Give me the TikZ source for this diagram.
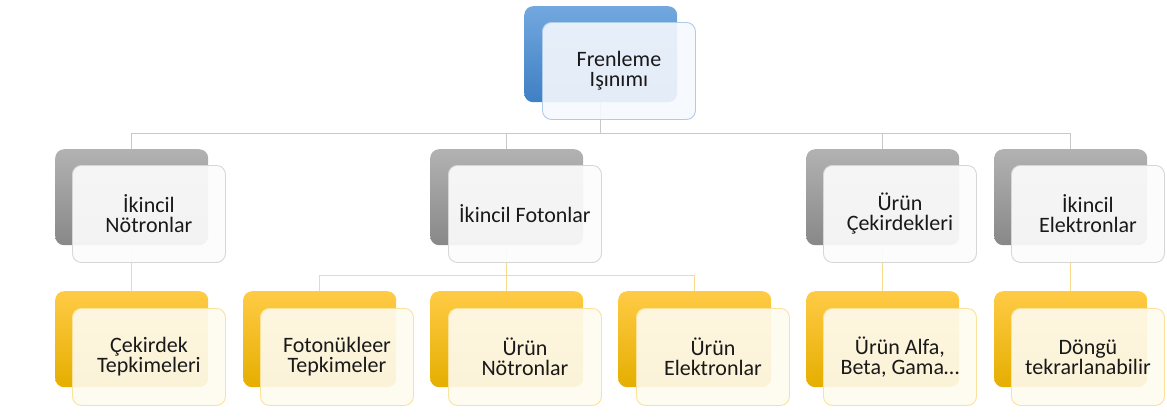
\documentclass[tikz,border=0pt]{standalone}
\usepackage{fontspec}
\setmainfont{Carlito}
\usetikzlibrary{backgrounds}
\begin{document}
\begin{tikzpicture}[x=1pt,y=-1pt,
  backbox/.style={rounded corners=9pt, minimum width=153pt, minimum height=96pt,
    inner sep=0pt, anchor=north west, draw=none},
  frontbox/.style={rounded corners=9pt, minimum width=153pt, minimum height=97pt,
    inner sep=0pt, anchor=north west, line width=0.9pt, fill opacity=0.9,
    text opacity=1, align=center, text=black!90,
    font=\fontsize{22}{20}\selectfont},
  bluebk/.style={backbox, top color=blueT, bottom color=blueB},
  graybk/.style={backbox, top color=grayT, bottom color=grayB},
  goldbk/.style={backbox, top color=goldT, bottom color=goldB},
  bluefr/.style={frontbox, fill=blueF, draw=blueL},
  grayfr/.style={frontbox, fill=grayF, draw=grayL, fill opacity=0.92},
  goldfr/.style={frontbox, fill=goldF, draw=goldL},
  grayline/.style={draw=lineG, line width=1pt},
  goldline/.style={draw=lineY, line width=1pt}]
\definecolor{blueT}{HTML}{72A8DE}
\definecolor{blueB}{HTML}{3F7FC4}
\definecolor{grayT}{HTML}{B2B2B2}
\definecolor{grayB}{HTML}{888888}
\definecolor{goldT}{HTML}{FFCB45}
\definecolor{goldB}{HTML}{E5AE00}
\definecolor{blueF}{HTML}{F5F8FD}
\definecolor{blueL}{HTML}{AFCBEA}
\definecolor{grayF}{HTML}{FCFCFC}
\definecolor{grayL}{HTML}{D6D6D6}
\definecolor{goldF}{HTML}{FEFBF0}
\definecolor{goldL}{HTML}{FBE19A}
\definecolor{lineG}{HTML}{C8C8C8}
\definecolor{lineY}{HTML}{F9DA8C}

\useasboundingbox (0,0) rectangle (1167,416);

% coloured back cards
\node[bluebk] (rootb) at (524,6) {};
\node[graybk] (g1) at (55,149) {};
\node[graybk] (g2) at (430,149) {};
\node[graybk] (g3) at (806,149) {};
\node[graybk] (g4) at (994,149) {};
\node[goldbk] (c1) at (55,291) {};
\node[goldbk] (c2) at (243,291) {};
\node[goldbk] (c3) at (430,291) {};
\node[goldbk] (c4) at (618,291) {};
\node[goldbk] (c5) at (806,291) {};
\node[goldbk] (c6) at (994,291) {};

% tree connectors, kept behind the cards
\begin{pgfonlayer}{background}
\draw[grayline] (rootb.south) -- ++(0,31) -| (g1.north);
\draw[grayline] (rootb.south) -- ++(0,31) -| (g2.north);
\draw[grayline] (rootb.south) -- ++(0,31) -| (g3.north);
\draw[grayline] (rootb.south) -- ++(0,31) -| (g4.north);
\draw[goldline] (g1.south) -- (c1.north);
\draw[goldline] (g2.south) -- ++(0,30) -| (c2.north);
\draw[goldline] (g2.south) -- ++(0,30) -| (c3.north);
\draw[goldline] (g2.south) -- ++(0,30) -| (c4.north);
\draw[goldline] (g3.south) -- (c5.north);
\draw[goldline] (g4.south) -- (c6.north);
\end{pgfonlayer}

% translucent front cards with the labels
\node[bluefr] (root) at (542,22) {Frenleme\\Işınımı};
\node[grayfr] (n1) at (72,165) {İkincil\\Nötronlar};
\node[grayfr] (n2) at (448,165) {İkincil Fotonlar};
\node[grayfr] (n3) at (823,165) {Ürün\\Çekirdekleri};
\node[grayfr] (n4) at (1011,165) {İkincil\\Elektronlar};
\node[goldfr] (m1) at (72,308) {Çekirdek\\Tepkimeleri};
\node[goldfr] (m2) at (260,308) {Fotonükleer\\Tepkimeler};
\node[goldfr] (m3) at (448,308) {Ürün\\Nötronlar};
\node[goldfr] (m4) at (636,308) {Ürün\\Elektronlar};
\node[goldfr] (m5) at (823,308) {Ürün Alfa,\\Beta, Gama…};
\node[goldfr] (m6) at (1011,308) {Döngü\\tekrarlanabilir};
\end{tikzpicture}
\end{document}
